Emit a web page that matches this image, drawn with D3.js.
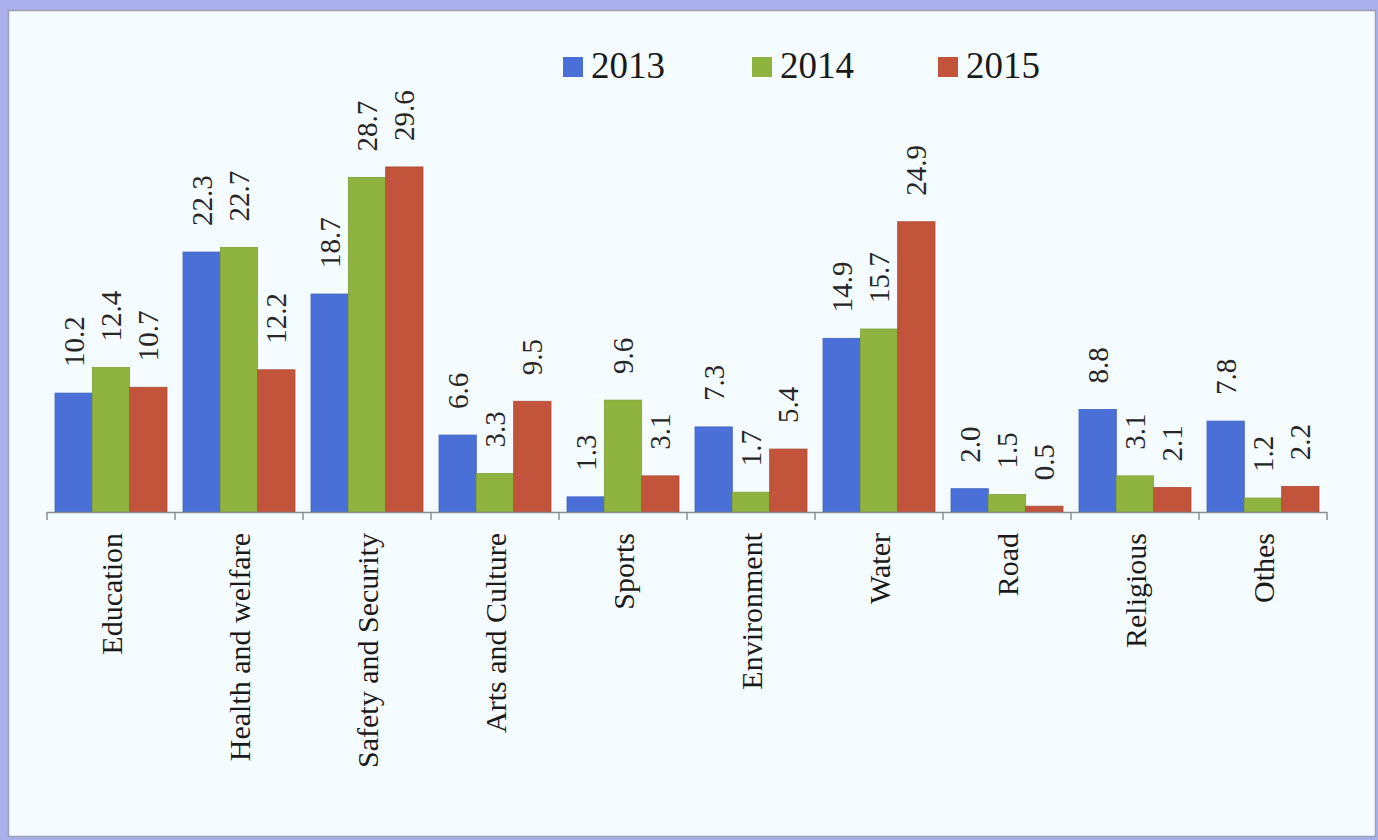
<!DOCTYPE html>
<html>
<head>
<meta charset="utf-8">
<script src="https://cdn.jsdelivr.net/npm/d3@7"></script>
<style>
  html, body { margin: 0; padding: 0; background: #a9afea; }
  svg { display: block; }
  text { font-family: "Liberation Serif", "Times New Roman", serif; }
</style>
</head>
<body>
<svg id="chart" width="1378" height="840"></svg>
<script>
// Share of projects by sector, per year (%)
const categories = ["Education", "Health and welfare", "Safety and Security", "Arts and Culture",
  "Sports", "Environment", "Water", "Road", "Religious", "Othes"];
const years = ["2013", "2014", "2015"];
const values2013 = [10.2, 22.3, 18.7, 6.6, 1.3, 7.3, 14.9, 2.0, 8.8, 7.8];
const values2014 = [12.4, 22.7, 28.7, 3.3, 9.6, 1.7, 15.7, 1.5, 3.1, 1.2];
const values2015 = [10.7, 12.2, 29.6, 9.5, 3.1, 5.4, 24.9, 0.5, 2.1, 2.2];
const seriesColors = ["#4a6fd6", "#8fb33f", "#c2543b"];

const series = [values2013, values2014, values2015];
const table = categories.map((c, i) => ({
  category: c,
  values: years.map((y, k) => ({ year: y, value: series[k][i], k }))
}));

const svg = d3.select("#chart");

// light panel inside the lavender frame
svg.append("rect")
  .attr("x", 8.5).attr("y", 10.5)
  .attr("width", 1367).attr("height", 826)
  .attr("fill", "#f5fcff")
  .attr("stroke", "#9c9fb8").attr("stroke-width", 1.5);

const x0 = d3.scaleBand().domain(categories).range([47, 1327]).paddingInner(0).paddingOuter(0);
const x1 = d3.scaleBand().domain(years).range([8, x0.bandwidth() - 8]).padding(0);
const y = d3.scaleLinear().domain([0, 35]).range([512, 104]);
const color = d3.scaleOrdinal().domain(years).range(seriesColors);

// bars
const groups = svg.append("g").selectAll("g")
  .data(table).join("g")
  .attr("transform", d => `translate(${x0(d.category)},0)`);

groups.selectAll("rect")
  .data(d => d.values).join("rect")
  .attr("x", d => x1(d.year))
  .attr("width", x1.bandwidth())
  .attr("y", d => y(d.value))
  .attr("height", d => y(0) - y(d.value))
  .attr("fill", d => color(d.year))
  .attr("stroke", d => d3.color(color(d.year)).darker(0.3))
  .attr("stroke-width", 0.8);

// value labels, rotated above each bar
groups.selectAll("text.value")
  .data(d => d.values).join("text")
  .attr("class", "value")
  .attr("transform", d => `translate(${x1(d.year) + x1.bandwidth() / 2},${y(d.value) - 26}) rotate(-90)`)
  .attr("dy", "0.35em")
  .attr("text-anchor", "start")
  .attr("font-size", 29)
  .attr("fill", "#262626")
  .text(d => d.value.toFixed(1));

// category axis with ticks on group boundaries
const axisG = svg.append("g");
axisG.append("line")
  .attr("x1", x0.range()[0]).attr("x2", x0.range()[1])
  .attr("y1", y(0) + 0.5).attr("y2", y(0) + 0.5)
  .attr("stroke", "#8c8c8c").attr("stroke-width", 1.5);
const boundaries = categories.map(c => x0(c)).concat([x0.range()[1]]);
axisG.selectAll("line.tick")
  .data(boundaries).join("line")
  .attr("class", "tick")
  .attr("x1", d => d).attr("x2", d => d)
  .attr("y1", y(0)).attr("y2", y(0) + 8)
  .attr("stroke", "#8c8c8c").attr("stroke-width", 1.5);

axisG.selectAll("text.cat")
  .data(categories).join("text")
  .attr("class", "cat")
  .attr("transform", d => `translate(${x0(d) + x0.bandwidth() / 2},${y(0) + 21}) rotate(-90)`)
  .attr("dy", "0.35em")
  .attr("text-anchor", "end")
  .attr("font-size", 30)
  .attr("fill", "#1a1a1a")
  .text(d => d);

// legend
const legendX = [563, 752, 938];
const legend = svg.append("g").selectAll("g")
  .data(years).join("g")
  .attr("transform", (d, i) => `translate(${legendX[i]},57)`);
legend.append("rect")
  .attr("width", 20).attr("height", 20)
  .attr("fill", d => color(d));
legend.append("text")
  .attr("x", 28).attr("y", 21)
  .attr("font-size", 37)
  .attr("fill", "#1a1a1a")
  .text(d => d);
</script>
</body>
</html>
